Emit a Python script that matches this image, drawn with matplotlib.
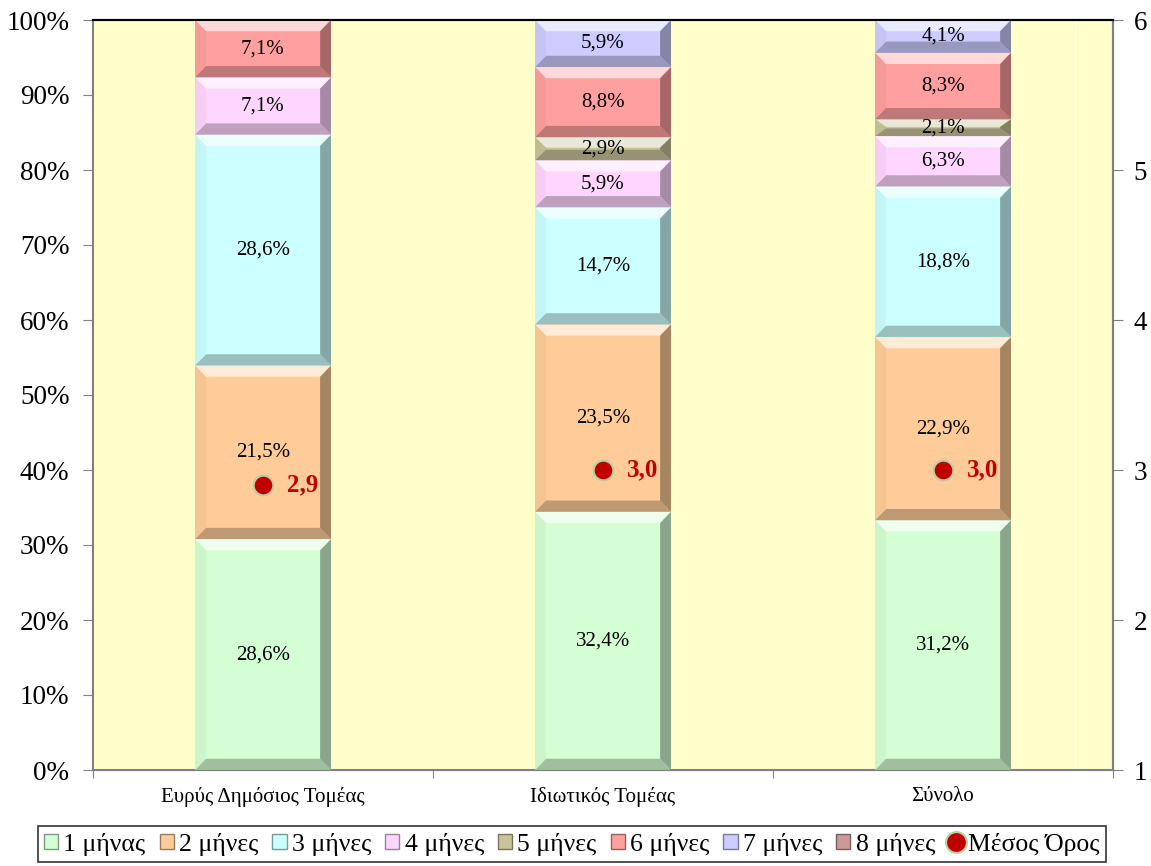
import matplotlib
matplotlib.use("Agg")
import matplotlib.pyplot as plt
from matplotlib.patches import Polygon, Patch
from matplotlib.lines import Line2D
from matplotlib.colors import to_rgb

plt.rcParams['font.family'] = ['Liberation Serif', 'DejaVu Serif']

categories = ["Ευρύς Δημόσιος Τομέας", "Ιδιωτικός Τομέας", "Σύνολο"]
series_names = ["1 μήνας", "2 μήνες", "3 μήνες", "4 μήνες", "5 μήνες",
                "6 μήνες", "7 μήνες", "8 μήνες"]
# percentages per series for each category (0 = no segment)
values = {
    "1 μήνας": [28.6, 32.4, 31.2],
    "2 μήνες": [21.5, 23.5, 22.9],
    "3 μήνες": [28.6, 14.7, 18.8],
    "4 μήνες": [7.1, 5.9, 6.3],
    "5 μήνες": [0.0, 2.9, 2.1],
    "6 μήνες": [7.1, 8.8, 8.3],
    "7 μήνες": [0.0, 5.9, 4.1],
    "8 μήνες": [0.0, 0.0, 0.0],
}
mean_months = [2.9, 3.0, 3.0]

colors = ["#D4FFD4", "#FFCC99", "#CCFFFF", "#FFD6FF", "#C9C39A",
          "#FF9F9F", "#CCCCFF", "#CC9999"]


def mix(c, other, t):
    c = to_rgb(c)
    o = to_rgb(other)
    return tuple(c[i] * (1 - t) + o[i] * t for i in range(3))


def bevel_bar(ax, x0, x1, y0, y1, color, bx=0.032, by=1.5):
    by = min(by, (y1 - y0) / 2.2)
    bx2 = min(bx, (x1 - x0) / 2)
    ax.add_patch(Polygon([(x0, y0), (x1, y0), (x1, y1), (x0, y1)],
                         closed=True, fc=color, ec="none", zorder=2))
    # top highlight
    ax.add_patch(Polygon([(x0, y1), (x1, y1), (x1 - bx2, y1 - by), (x0 + bx2, y1 - by)],
                         closed=True, fc=mix(color, "white", 0.6), ec="none", zorder=3))
    # bottom shade
    ax.add_patch(Polygon([(x0, y0), (x1, y0), (x1 - bx2, y0 + by), (x0 + bx2, y0 + by)],
                         closed=True, fc=mix(color, "black", 0.25), ec="none", zorder=3))
    # right shade
    ax.add_patch(Polygon([(x1, y0), (x1, y1), (x1 - bx2, y1 - by), (x1 - bx2, y0 + by)],
                         closed=True, fc=mix(color, "black", 0.35), ec="none", zorder=3))
    # left side
    ax.add_patch(Polygon([(x0, y0), (x0, y1), (x0 + bx2, y1 - by), (x0 + bx2, y0 + by)],
                         closed=True, fc=mix(color, "black", 0.04), ec="none", zorder=3))


fig = plt.figure(figsize=(11.51, 8.66), dpi=100)
ax = fig.add_axes([93 / 1151, 1 - 770 / 866, 1020 / 1151, 750 / 866])
ax.set_facecolor("#FFFFCC")

width = 0.4
for ci, cat in enumerate(categories):
    total = sum(values[s][ci] for s in series_names)
    bottom = 0.0
    for si, s in enumerate(series_names):
        v = values[s][ci]
        if v <= 0:
            continue
        h = v / total * 100
        bevel_bar(ax, ci - width / 2, ci + width / 2, bottom, bottom + h, colors[si])
        ax.text(ci, bottom + h / 2, f"{v:.1f}%".replace(".", ","), ha="center",
                va="center", fontsize=15, zorder=5)
        bottom += h

ax.set_xlim(-0.5, 2.5)
ax.set_ylim(0, 100)
ax.set_yticks(range(0, 101, 10))
ax.set_yticklabels([f"{t}%" for t in range(0, 101, 10)], fontsize=19.5)
ax.set_xticks([-0.5, 0.5, 1.5, 2.5])
ax.set_xticklabels([])
ax.set_xticks([0, 1, 2], minor=True)
ax.set_xticklabels(categories, minor=True, fontsize=15)
ax.tick_params(axis="x", which="minor", length=0, pad=12)
ax.tick_params(axis="x", which="major", length=6, color="#808080", direction="out")
ax.tick_params(axis="y", length=7, color="#808080", direction="out", pad=10)
ax.axvline(2.388, color="white", lw=1, zorder=1)
for side in ["left", "bottom"]:
    ax.spines[side].set_color("#808080")
    ax.spines[side].set_linewidth(1.5)
ax.spines["top"].set_color("black")
ax.spines["top"].set_linewidth(1.5)
ax.spines["right"].set_color("#808080")
ax.spines["right"].set_linewidth(1.5)

ax2 = ax.twinx()
ax2.set_ylim(1, 6)
ax2.set_yticks(range(1, 7))
ax2.tick_params(axis="y", length=7, color="#808080", direction="out", labelsize=19.5, pad=8)
ax2.spines["right"].set_color("#808080")
ax2.spines["right"].set_linewidth(1.5)
ax2.spines["top"].set_color("black")
ax2.spines["top"].set_linewidth(1.5)
ax2.spines["left"].set_visible(False)
ax2.spines["bottom"].set_color("#808080")
ax2.scatter(range(len(categories)), mean_months, s=200, color="#C00000",
            edgecolor="#B8CFA0", linewidth=1.5, zorder=6)
for ci, m in enumerate(mean_months):
    ax2.annotate(f"{m:.1f}".replace(".", ","), (ci, m), xytext=(17, 0),
                 textcoords="offset points", ha="left", va="center",
                 fontsize=18, fontweight="bold", color="#C00000", zorder=7)

handles = [Patch(facecolor=c, edgecolor=mix(c, "black", 0.4), linewidth=1) for c in colors]
handles.append(Line2D([], [], marker="o", linestyle="none", markersize=15,
                      markerfacecolor="#C00000", markeredgecolor="#B8CFA0",
                      markeredgewidth=1.5))
leg = fig.legend(handles, series_names + ["Μέσος Όρος"], loc="center",
                 bbox_to_anchor=(572 / 1151, 1 - 844 / 866), ncol=9, fontsize=18.5,
                 frameon=True, fancybox=False, edgecolor="black",
                 handlelength=0.55, handleheight=0.55, handletextpad=0.2,
                 columnspacing=0.55, borderpad=0.25)
leg.get_frame().set_linewidth(1.2)

fig.savefig("out.png", dpi=100)
